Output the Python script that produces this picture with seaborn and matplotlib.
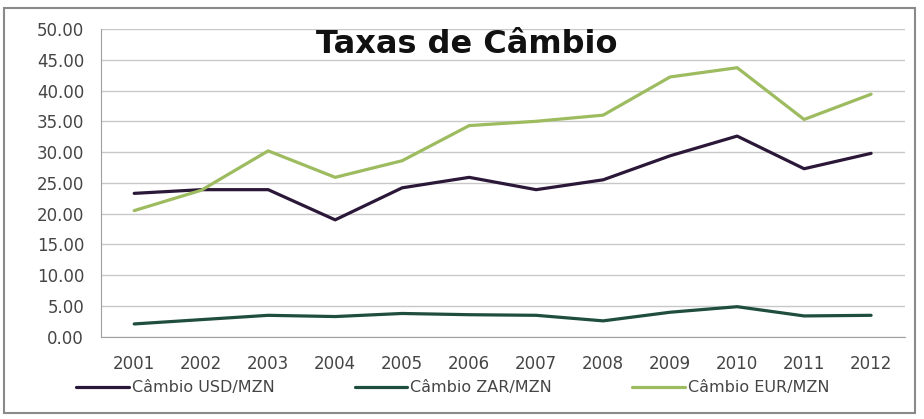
import numpy as np
import pandas as pd
import seaborn as sns
import matplotlib.pyplot as plt
from matplotlib.patches import Rectangle

anos = ['2001', '2002', '2003', '2004', '2005', '2006',
        '2007', '2008', '2009', '2010', '2011', '2012']
usd_mzn = [23.3, 23.9, 23.9, 19.0, 24.2, 25.9, 23.9, 25.5, 29.4, 32.6, 27.3, 29.8]
zar_mzn = [2.1, 2.8, 3.5, 3.3, 3.8, 3.6, 3.5, 2.6, 4.0, 4.9, 3.4, 3.5]
eur_mzn = [20.5, 23.8, 30.2, 25.9, 28.6, 34.3, 35.0, 36.0, 42.2, 43.7, 35.3, 39.4]

nomes = ['Câmbio USD/MZN', 'Câmbio ZAR/MZN', 'Câmbio EUR/MZN']
cores = ['#2b1838', '#1f4d3e', '#9dbb5f']

df = pd.DataFrame({
    'pos': list(range(len(anos))) * 3,
    'valor': usd_mzn + zar_mzn + eur_mzn,
    'serie': [nomes[0]] * 12 + [nomes[1]] * 12 + [nomes[2]] * 12,
})

sns.set_style("white")
plt.rcParams['font.family'] = ['DejaVu Sans']

fig = plt.figure(figsize=(9.24, 4.19), dpi=100)
ax = fig.add_axes([0.109, 0.196, 0.870, 0.735])

sns.lineplot(data=df, x='pos', y='valor', hue='serie', palette=cores,
             linewidth=2.3, ax=ax, legend=False)

ax.set_xlim(-0.5, 11.5)
ax.set_ylim(0, 50)
ax.set_yticks(np.arange(0, 50.01, 5))
ax.set_yticklabels([f'{v:.2f}' for v in np.arange(0, 50.01, 5)],
                   fontsize=12, color='#454545')
ax.set_xticks(range(len(anos)))
ax.set_xticklabels(anos, fontsize=12, color='#454545')
ax.set_xticks(np.arange(-0.5, 12, 1), minor=True)
ax.tick_params(axis='x', which='major', length=0, pad=13)
ax.tick_params(axis='x', which='minor', length=5, color='#a0a0a0', direction='out')
ax.tick_params(axis='y', length=7, color='#b0b0b0', pad=5)
ax.set_xlabel('')
ax.set_ylabel('')
ax.grid(axis='y', color='#c8c8c8', linewidth=1)
for s in ['top', 'right']:
    ax.spines[s].set_visible(False)
for s in ['left', 'bottom']:
    ax.spines[s].set_color('#a0a0a0')

ax.text(0.455, 0.948, 'Taxas de Câmbio', transform=ax.transAxes, ha='center',
        va='center', fontsize=23, fontweight='bold', color='#111111')

# legend below the chart
handles = [plt.Line2D([], [], color=c, linewidth=2.3) for c in cores]
fig.legend(handles, nomes, loc='center', bbox_to_anchor=(0.49, 0.074), ncol=3,
           frameon=False, fontsize=11.5, handlelength=3.3, handletextpad=0.2,
           columnspacing=5.0, labelcolor='#454545')

# frame around the chart
fig.patches.append(Rectangle((0.004, 0.015), 0.986, 0.965, transform=fig.transFigure,
                             fill=False, edgecolor='#8a8a8a', linewidth=1.5))

fig.savefig('out.png', dpi=100)
